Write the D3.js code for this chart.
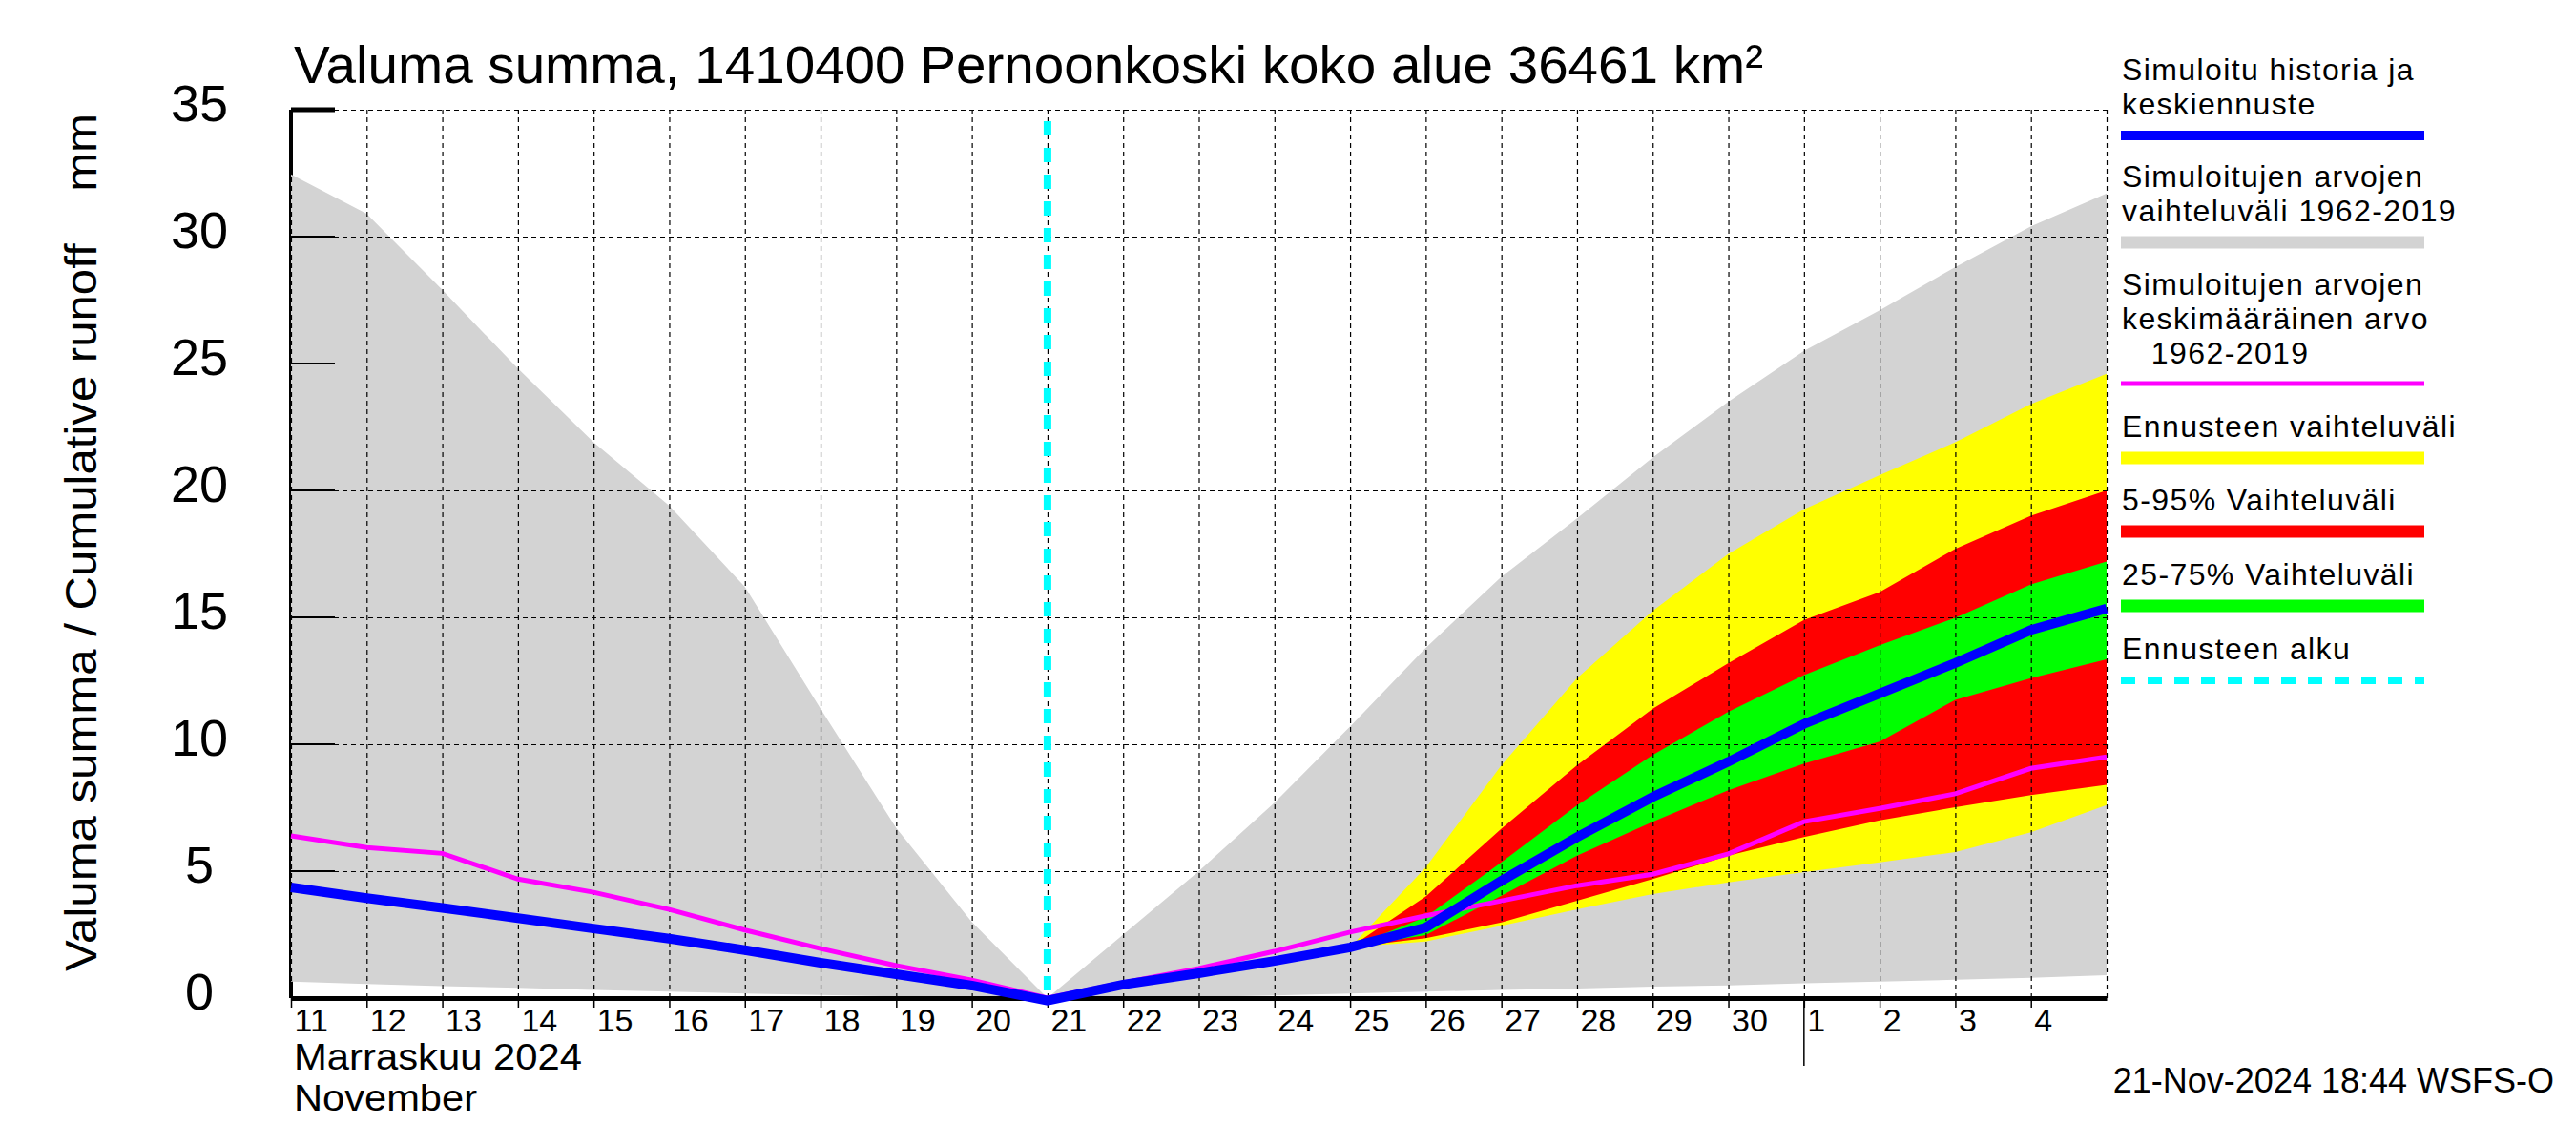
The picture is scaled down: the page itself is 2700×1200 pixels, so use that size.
<!DOCTYPE html>
<html>
<head>
<meta charset="utf-8">
<script src="https://cdn.jsdelivr.net/npm/d3@7"></script>
<style>
body { margin: 0; background: #ffffff; }
svg text { font-family: "Liberation Sans", Arial, Helvetica, sans-serif; fill: #000; }
</style>
</head>
<body>
<svg id="chart" width="2700" height="1200"></svg>
<script>

//// DATA

// Daily points (midnight), history part + forecast part
var allDays = ["2024-11-11", "2024-11-12", "2024-11-13", "2024-11-14", "2024-11-15",
               "2024-11-16", "2024-11-17", "2024-11-18", "2024-11-19", "2024-11-20",
               "2024-11-21", "2024-11-22", "2024-11-23", "2024-11-24", "2024-11-25",
               "2024-11-26", "2024-11-27", "2024-11-28", "2024-11-29", "2024-11-30",
               "2024-12-01", "2024-12-02", "2024-12-03", "2024-12-04", "2024-12-05"];

// Simulated range 1962-2019 (grey)
var greyUpper = [32.45, 30.9, 27.9, 24.8, 21.9, 19.4, 16.2, 11.4, 6.7, 3.0, 0,
                 2.5, 5.0, 7.7, 10.7, 13.8, 16.6, 18.9, 21.3, 23.5, 25.5, 27.1, 28.8, 30.4, 31.7];
var greyLower = [0.65, 0.55, 0.47, 0.4, 0.32, 0.25, 0.18, 0.12, 0.07, 0.03, 0,
                 0.02, 0.05, 0.1, 0.18, 0.25, 0.32, 0.38, 0.45, 0.5, 0.58, 0.65, 0.72, 0.8, 0.9];

// Simulated history and mean forecast (blue)
var blueSeries = [4.36, 3.94, 3.55, 3.15, 2.74, 2.34, 1.89, 1.39, 0.94, 0.49, -0.1,
                  0.53, 0.98, 1.46, 2.0, 2.78, 4.62, 6.34, 7.92, 9.31, 10.8, 12.0, 13.2, 14.5, 15.35];

// Mean of simulated values 1962-2019 (magenta)
var meanSeries = [6.39, 5.93, 5.7, 4.69, 4.17, 3.49, 2.68, 1.95, 1.28, 0.71, 0,
                  0.6, 1.17, 1.84, 2.6, 3.24, 3.83, 4.43, 4.88, 5.68, 6.95, 7.47, 8.05, 9.05, 9.5];

// Forecast bands
var forecastDays = ["2024-11-25", "2024-11-26", "2024-11-27", "2024-11-28", "2024-11-29",
                    "2024-11-30", "2024-12-01", "2024-12-02", "2024-12-03", "2024-12-04", "2024-12-05"];
var yellowUpper = [2.0, 5.15, 9.17, 12.6, 15.25, 17.5, 19.26, 20.6, 21.9, 23.4, 24.6];
var yellowLower = [2.0, 2.23, 2.85, 3.5, 4.1, 4.56, 4.96, 5.35, 5.75, 6.53, 7.6];
var redUpper    = [2.0, 4.0, 6.67, 9.17, 11.4, 13.2, 14.9, 16.0, 17.7, 19.0, 20.0];
var redLower    = [2.0, 2.36, 2.98, 3.83, 4.69, 5.61, 6.34, 7.0, 7.52, 8.0, 8.4];
var greenUpper  = [2.0, 3.2, 5.35, 7.59, 9.58, 11.28, 12.73, 13.9, 14.98, 16.3, 17.2];
var greenLower  = [2.0, 2.48, 4.03, 5.61, 6.95, 8.19, 9.24, 10.1, 11.75, 12.6, 13.35];

var forecastStart = "2024-11-21";

// Axis ticks
var xTickDays = ["2024-11-11", "2024-11-12", "2024-11-13", "2024-11-14", "2024-11-15",
                 "2024-11-16", "2024-11-17", "2024-11-18", "2024-11-19", "2024-11-20",
                 "2024-11-21", "2024-11-22", "2024-11-23", "2024-11-24", "2024-11-25",
                 "2024-11-26", "2024-11-27", "2024-11-28", "2024-11-29", "2024-11-30",
                 "2024-12-01", "2024-12-02", "2024-12-03", "2024-12-04"];
var xTickLabels = ["11", "12", "13", "14", "15", "16", "17", "18", "19", "20",
                   "21", "22", "23", "24", "25", "26", "27", "28", "29", "30",
                   "1", "2", "3", "4"];
var monthStart = "2024-12-01";
var yTicks = [0, 5, 10, 15, 20, 25, 30, 35];

// Texts
var titleText = "Valuma summa, 1410400 Pernoonkoski koko alue 36461 km\u00B2";
var yTitleText = "Valuma summa / Cumulative runoff    mm";
var monthLabels = ["Marraskuu 2024", "November"];
var stampText = "21-Nov-2024 18:44 WSFS-O";
var legendLabels = [
    ["Simuloitu historia ja", "keskiennuste"],
    ["Simuloitujen arvojen", "vaihteluv\u00E4li 1962-2019"],
    ["Simuloitujen arvojen", "keskim\u00E4\u00E4r\u00E4inen arvo", "   1962-2019"],
    ["Ennusteen vaihteluv\u00E4li"],
    ["5-95% Vaihteluv\u00E4li"],
    ["25-75% Vaihteluv\u00E4li"],
    ["Ennusteen alku"]
];


//// MAIN

drawChart();

///////////////////////////////////////////////
// Draws the whole chart
function drawChart(){
///////////////////////////////////////////////

    var parseDay = d3.timeParse("%Y-%m-%d");
    var svg = d3.select("#chart");

    // Plot box
    var left = 305, right = 2208, top = 115, bottom = 1046;

    var x = d3.scaleTime()
        .domain([parseDay(allDays[0]), parseDay(allDays[allDays.length - 1])])
        .range([left, right]);
    var y = d3.scaleLinear().domain([0, 35]).range([bottom, top]);

    // Rows for the library
    var rows = allDays.map(function(d, i){
        return {date: parseDay(d), hi: greyUpper[i], lo: greyLower[i], blue: blueSeries[i], mean: meanSeries[i]};
    });
    var bandRows = forecastDays.map(function(d, i){
        return {date: parseDay(d),
                yl: yellowLower[i], yu: yellowUpper[i],
                rl: redLower[i], ru: redUpper[i],
                gl: greenLower[i], gu: greenUpper[i]};
    });

    // Left axis line (grey area paints over it)
    svg.append("line")
        .attr("x1", left).attr("x2", left)
        .attr("y1", y(35)).attr("y2", y(0))
        .attr("stroke", "#000").attr("stroke-width", 4);

    // Grey range
    svg.append("path")
        .datum(rows)
        .attr("fill", "#d3d3d3")
        .attr("d", d3.area()
            .x(function(d){ return x(d.date); })
            .y0(function(d){ return y(d.lo); })
            .y1(function(d){ return y(d.hi); }));

    // Forecast bands: yellow, red, green
    var bands = [["yl", "yu", "#ffff00"], ["rl", "ru", "#ff0000"], ["gl", "gu", "#00ff00"]];
    bands.forEach(function(b){
        svg.append("path")
            .datum(bandRows)
            .attr("fill", b[2])
            .attr("d", d3.area()
                .x(function(d){ return x(d.date); })
                .y0(function(d){ return y(d[b[0]]); })
                .y1(function(d){ return y(d[b[1]]); }));
    });

    // Vertical grid (every day)
    var gridX = svg.append("g")
        .attr("transform", "translate(0," + bottom + ")")
        .call(d3.axisBottom(x)
            .tickValues(allDays.map(parseDay))
            .tickSize(-(bottom - top))
            .tickFormat(""));
    gridX.select(".domain").remove();
    gridX.selectAll("line")
        .attr("stroke", "#000").attr("stroke-width", 1.2)
        .attr("stroke-dasharray", "5,4");

    // Horizontal grid
    var gridY = svg.append("g")
        .attr("transform", "translate(" + left + ",0)")
        .call(d3.axisLeft(y)
            .tickValues(yTicks.slice(1))
            .tickSize(-(right - left))
            .tickFormat(""));
    gridY.select(".domain").remove();
    gridY.selectAll("line")
        .attr("stroke", "#000").attr("stroke-width", 1.2)
        .attr("stroke-dasharray", "5,4");

    // Solid inward y ticks
    svg.append("g")
        .selectAll("line")
        .data(yTicks.slice(1))
        .enter()
        .append("line")
        .attr("x1", left).attr("x2", left + 46)
        .attr("y1", function(d){ return y(d); })
        .attr("y2", function(d){ return y(d); })
        .attr("stroke", "#000")
        .attr("stroke-width", function(d){ return d == 35 ? 5 : 2; });

    // Y tick labels
    svg.append("g")
        .selectAll("text")
        .data(yTicks)
        .enter()
        .append("text")
        .attr("x", 209)
        .attr("y", function(d){ return y(d) + 12; })
        .attr("text-anchor", "middle")
        .style("font-size", "54px")
        .text(function(d){ return d; });

    // Bottom axis with day labels
    var xAxis = svg.append("g")
        .attr("transform", "translate(0," + bottom + ")")
        .call(d3.axisBottom(x)
            .tickValues(xTickDays.map(parseDay))
            .tickSize(10)
            .tickSizeOuter(0)
            .tickFormat(function(d, i){ return xTickLabels[i]; }));
    xAxis.select(".domain")
        .attr("stroke", "#000").attr("stroke-width", 5);
    xAxis.selectAll(".tick line")
        .attr("stroke", "#000").attr("stroke-width", 1.5);
    xAxis.selectAll(".tick text")
        .attr("text-anchor", "start")
        .attr("x", 3)
        .attr("y", 35)
        .attr("dy", 0)
        .attr("fill", "#000")
        .style("font-size", "34px")
        .style("font-family", "'Liberation Sans', Arial, sans-serif");

    // Month change tick
    svg.append("line")
        .attr("x1", x(parseDay(monthStart))).attr("x2", x(parseDay(monthStart)))
        .attr("y1", bottom).attr("y2", 1117)
        .attr("stroke", "#000").attr("stroke-width", 1.5);

    // Month labels (one text block)
    var month = svg.append("text")
        .attr("x", 308).attr("y", 1121)
        .style("font-size", "38px");
    monthLabels.forEach(function(t, i){
        month.append("tspan")
            .attr("x", 308)
            .attr("dy", i == 0 ? 0 : 43)
            .attr("textLength", i == 0 ? 302 : 192)
            .attr("lengthAdjust", "spacingAndGlyphs")
            .text(t);
    });

    // Mean line (magenta)
    svg.append("path")
        .datum(rows)
        .attr("fill", "none")
        .attr("stroke", "#ff00ff").attr("stroke-width", 5)
        .attr("stroke-linejoin", "miter")
        .attr("d", d3.line()
            .x(function(d){ return x(d.date); })
            .y(function(d){ return y(d.mean); }));

    // Simulated history / mean forecast (blue)
    svg.append("path")
        .datum(rows)
        .attr("fill", "none")
        .attr("stroke", "#0000ff").attr("stroke-width", 10)
        .attr("stroke-linejoin", "miter")
        .attr("d", d3.line()
            .x(function(d){ return x(d.date); })
            .y(function(d){ return y(d.blue); }));

    // Forecast start
    svg.append("line")
        .attr("x1", x(parseDay(forecastStart))).attr("x2", x(parseDay(forecastStart)))
        .attr("y1", 127).attr("y2", bottom)
        .attr("stroke", "#00ffff").attr("stroke-width", 8)
        .attr("stroke-dasharray", "15,13");

    // Title
    svg.append("text")
        .attr("x", 308).attr("y", 87)
        .attr("textLength", 1540)
        .attr("lengthAdjust", "spacingAndGlyphs")
        .style("font-size", "56px")
        .text(titleText);

    // Y axis title
    svg.append("text")
        .attr("transform", "translate(101,1018) rotate(-90)")
        .attr("textLength", 899)
        .attr("lengthAdjust", "spacingAndGlyphs")
        .style("font-size", "46px")
        .style("white-space", "pre")
        .text(yTitleText);

    // Time stamp
    svg.append("text")
        .attr("x", 2677).attr("y", 1145)
        .attr("text-anchor", "end")
        .style("font-size", "36px")
        .text(stampText);

    drawLegend(svg);
}


///////////////////////////////////////////////
// Legend on the right side
function drawLegend(svg){
///////////////////////////////////////////////

    var firstBaseline = [84, 196, 309, 458, 535, 613, 691];
    var lineY = [142, 254, 402, 480, 557, 635, 713];
    var colors = ["#0000ff", "#d3d3d3", "#ff00ff", "#ffff00", "#ff0000", "#00ff00", "#00ffff"];
    var widths = [10, 13, 5, 13, 13, 13, 8];

    legendLabels.forEach(function(lines, i){
        // One text element per entry, lines as tspans
        var label = svg.append("text")
            .attr("x", 2224).attr("y", firstBaseline[i])
            .style("font-size", "32px")
            .style("letter-spacing", "1.4px")
            .style("white-space", "pre");
        lines.forEach(function(t, j){
            label.append("tspan")
                .attr("x", 2224)
                .attr("dy", j == 0 ? 0 : 36)
                .text(t);
        });
        svg.append("line")
            .attr("x1", 2223).attr("x2", 2541)
            .attr("y1", lineY[i]).attr("y2", lineY[i])
            .attr("stroke", colors[i])
            .attr("stroke-width", widths[i])
            .attr("stroke-dasharray", i == 6 ? "15,13" : null);
    });
}

</script>
</body>
</html>
